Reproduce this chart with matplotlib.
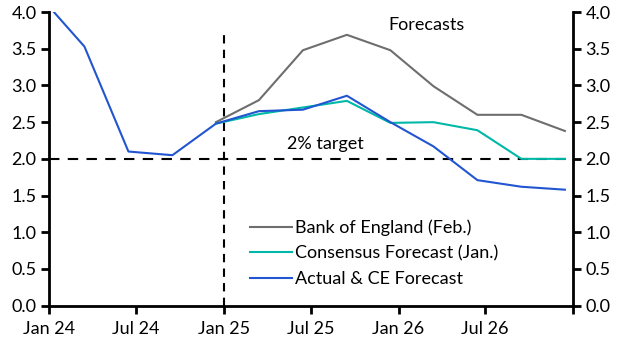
import datetime as dt
import matplotlib
matplotlib.use('Agg')
from matplotlib import pyplot as plt
import matplotlib.dates as mdates

plt.rcParams['font.family'] = ['Lato', 'DejaVu Sans']

# quarterly CPI inflation, plotted mid last month of each quarter
actual_dates = [dt.date(2023, 12, 15), dt.date(2024, 3, 15), dt.date(2024, 6, 15),
                dt.date(2024, 9, 15), dt.date(2024, 12, 15), dt.date(2025, 3, 15),
                dt.date(2025, 6, 15), dt.date(2025, 9, 15), dt.date(2025, 12, 15),
                dt.date(2026, 3, 15), dt.date(2026, 6, 15), dt.date(2026, 9, 15),
                dt.date(2026, 12, 15)]
actual_ce = [4.2, 3.53, 2.1, 2.05, 2.48, 2.65, 2.67, 2.86, 2.5, 2.17, 1.71, 1.62, 1.58]

fc_dates = actual_dates[4:]
boe_feb = [2.5, 2.8, 3.48, 3.69, 3.48, 2.99, 2.6, 2.6, 2.38]
consensus_jan = [2.48, 2.61, 2.7, 2.79, 2.49, 2.5, 2.39, 2.0, 2.0]

x_ticks = [dt.date(2024, 1, 1), dt.date(2024, 7, 1), dt.date(2025, 1, 1),
           dt.date(2025, 7, 1), dt.date(2026, 1, 1), dt.date(2026, 7, 1),
           dt.date(2027, 1, 1)]
x_labels = ['Jan 24', 'Jul 24', 'Jan 25', 'Jul 25', 'Jan 26', 'Jul 26', '']
y_ticks = [0.0, 0.5, 1.0, 1.5, 2.0, 2.5, 3.0, 3.5, 4.0]

fs = 13

fig = plt.figure(figsize=(6.29, 3.55), dpi=100)
ax = fig.add_axes([0.078, 0.139, 0.833, 0.827])

ax.axhline(2.0, color='black', lw=1.5, ls=(0, (5, 4)), zorder=1)
ax.plot([dt.date(2025, 1, 1)] * 2, [0, 3.76], color='black', lw=1.5,
        ls=(0, (4, 3)), zorder=1)

ax.plot(fc_dates, boe_feb, color='#6e6e6e', lw=1.5, label='Bank of England (Feb.)', zorder=2)
ax.plot(fc_dates, consensus_jan, color='#00b8a8', lw=1.5, label='Consensus Forecast (Jan.)', zorder=2)
ax.plot(actual_dates, actual_ce, color='#2255d0', lw=1.5, label='Actual & CE Forecast', zorder=3)

ax.set_xlim(dt.date(2024, 1, 1), dt.date(2027, 1, 1))
ax.set_ylim(0, 4)
ax.set_xticks([mdates.date2num(d) for d in x_ticks])
ax.set_xticklabels(x_labels)
ax.set_yticks(y_ticks)
ax.set_yticklabels(['%.1f' % v for v in y_ticks])

ax.spines['top'].set_visible(False)
for s in ['left', 'right', 'bottom']:
    ax.spines[s].set_linewidth(2)
ax.tick_params(axis='both', which='major', direction='out', length=6, width=2,
               labelsize=fs, pad=3)
ax.tick_params(axis='y', right=True, labelright=True)
ax.tick_params(axis='x', pad=5)

ax.text(dt.date(2025, 8, 1), 2.09, '2% target', fontsize=fs, ha='center', va='bottom')
ax.text(dt.date(2026, 3, 1), 3.82, 'Forecasts', fontsize=fs, ha='center', va='center')

ax.legend(loc='upper left', bbox_to_anchor=(0.370, 0.318), frameon=False, fontsize=fs,
          handlelength=2.3, handletextpad=0.2, labelspacing=0.53, borderaxespad=0.0,
          borderpad=0.4)

fig.savefig('out.png', dpi=100)
